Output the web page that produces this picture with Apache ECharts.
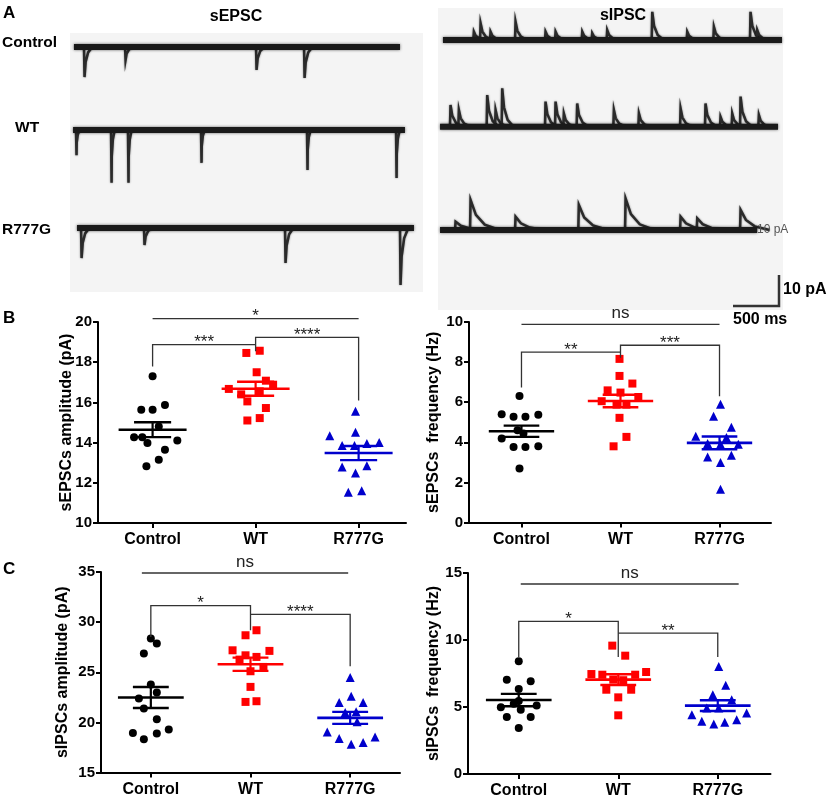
<!DOCTYPE html>
<html>
<head>
<meta charset="utf-8">
<script src="https://cdn.jsdelivr.net/npm/echarts@6/dist/echarts.min.js"></script>
<style>
  html, body { margin: 0; padding: 0; background: #fff; }
  #main { width: 829px; height: 803px; }
</style>
</head>
<body>
<div id="main"></div>
<script>
const categories = ['Control', 'WT', 'R777G'];

// B left: sEPSCs amplitude (pA), one array per group + horizontal scatter offsets
const epscAmp = [
  [17.3, 15.64, 15.64, 15.87, 14.8, 14.26, 14.26, 14.11, 13.98, 13.65, 13.15, 12.82],
  [18.46, 18.57, 17.5, 17.08, 16.88, 16.67, 16.4, 16.55, 16.05, 15.72, 15.1, 15.22],
  [15.56, 14.34, 14.51, 14.01, 13.95, 13.85, 13.85, 12.79, 12.85, 12.49, 11.53, 11.6]
];
const epscAmpJitter = [
  [0, -0.11, 0, 0.12, 0.06, -0.18, -0.10, 0.24, -0.05, 0.12, 0.06, -0.06],
  [-0.09, 0.04, 0.01, 0.10, 0.17, -0.26, -0.14, 0.04, -0.08, 0.10, -0.08, 0.04],
  [-0.03, -0.28, -0.03, 0.20, 0.08, -0.04, -0.16, -0.16, 0.08, -0.03, -0.10, 0.03]
];
const epscAmpMean = [14.64, 16.68, 13.48];
const epscAmpSem = [0.37, 0.35, 0.35];
// [from, to, bar y, left leg end, right leg end, label]
const epscAmpSig = [
  [0, 2, 20.17, 20.17, 20.17, '*'],
  [0, 1, 18.87, 17.79, 18.87, '***'],
  [1, 2, 19.24, 18.54, 16.09, '****']
];

// B right: sEPSCs frequency (Hz)
const epscFreq = [
  [6.31, 5.4, 5.27, 5.27, 5.38, 4.44, 4.6, 4.19, 3.77, 3.77, 3.80, 2.69],
  [8.16, 7.31, 6.93, 6.59, 6.48, 6.26, 6.05, 5.88, 5.88, 5.22, 4.27, 3.80],
  [5.90, 5.30, 4.75, 4.30, 4.24, 3.94, 3.90, 3.90, 3.27, 3.36, 2.99, 1.66]
];
const epscFreqJitter = [
  [-0.02, -0.20, -0.08, 0.04, 0.17, 0.02, -0.04, -0.20, -0.08, 0.04, 0.17, -0.02],
  [-0.01, -0.01, 0.12, -0.13, 0, 0.18, -0.19, -0.04, 0.06, -0.01, 0.06, -0.07],
  [0.01, -0.06, 0.12, -0.24, 0.07, -0.12, 0.01, 0.19, -0.12, 0.12, 0.01, 0.01]
];
const epscFreqMean = [4.55, 6.06, 3.97];
const epscFreqSem = [0.28, 0.31, 0.32];
const epscFreqSig = [
  [0, 2, 9.88, 9.88, 9.88, 'ns'],
  [0, 1, 8.5, 6.73, 8.5, '**'],
  [1, 2, 8.84, 8.22, 6.3, '***']
];

// C left: sIPSCs amplitude (pA)
const ipscAmp = [
  [28.36, 27.86, 26.86, 23.77, 22.38, 22.97, 21.38, 20.32, 18.95, 18.89, 19.29, 18.32],
  [28.69, 29.19, 27.19, 27.13, 26.69, 26.53, 26.26, 25.53, 25.10, 23.54, 22.04, 22.11],
  [24.47, 22.61, 21.98, 21.98, 20.98, 21.05, 20.05, 19.05, 18.39, 18.55, 17.82, 17.99]
];
const ipscAmpJitter = [
  [0, 0.06, -0.07, 0, -0.12, 0.06, -0.07, 0.06, -0.18, 0.06, 0.18, -0.07],
  [-0.05, 0.06, -0.18, 0.19, -0.05, 0.06, -0.11, 0.13, 0, 0, -0.05, 0.06],
  [0, 0.01, -0.11, 0.13, -0.05, 0.06, 0.07, -0.23, -0.11, 0.25, 0.01, 0.13]
];
const ipscAmpMean = [22.48, 25.8, 20.45];
const ipscAmpSem = [1.05, 0.66, 0.6];
const ipscAmpSig = [
  [-0.09, 1.98, 34.9, 34.9, 34.9, 'ns'],
  [0, 1, 31.64, 28.52, 29.19, '*'],
  [1, 2, 30.78, 30.78, 25.6, '****']
];

// C right: sIPSCs frequency (Hz)
const ipscFreq = [
  [8.41, 7.04, 6.92, 6.34, 5.45, 5.25, 4.98, 5.12, 4.8, 4.25, 4.25, 3.43],
  [9.58, 8.83, 7.46, 7.61, 7.41, 7.41, 7.04, 7.0, 6.29, 6.29, 5.72, 4.38],
  [8.03, 6.62, 5.92, 5.55, 4.93, 4.93, 4.43, 4.55, 3.93, 3.73, 3.86, 4.05]
];
const ipscFreqJitter = [
  [0, -0.12, 0.12, 0, 0, -0.05, -0.18, 0.18, 0.02, -0.12, 0.12, 0],
  [-0.06, 0.07, -0.27, 0.28, -0.16, 0.17, -0.05, 0.05, -0.12, 0.13, 0, 0],
  [0.01, 0.08, -0.05, 0.14, -0.11, 0.01, -0.26, 0.29, -0.16, -0.04, 0.07, 0.19]
];
const ipscFreqMean = [5.52, 7.04, 5.1];
const ipscFreqSem = [0.46, 0.4, 0.4];
const ipscFreqSig = [
  [0.02, 2.21, 14.18, 14.18, 14.18, 'ns'],
  [0, 1, 11.39, 8.73, 8.73, '*'],
  [1, 2, 10.52, 10.52, 8.73, '**']
];

// A: example traces, events as [time (ms), peak (pA)]
const epscControlEvents = [[152, -9.7], [598, -4.2], [2022, -7.4], [2544, -10]];
const epscWTEvents = [[65, -8.1], [446, -17], [630, -17], [1424, -10.6], [2576, -12.9], [3544, -15.5]];
const epscR777GEvents = [[120, -9.7], [804, -5.5], [2337, -11.3], [3587, -18.4]];
const ipscControlEvents = [[384, 2.7], [457, 5.4], [565, 2.7], [837, 5.9], [1163, 2.7], [1272, 2.7],
  [1562, 2.7], [1670, 2.2], [1833, 3.2], [2323, 9.1], [2703, 2.7], [2993, 4.3], [3391, 9.1], [3464, 3.2]];
const ipscWTEvents = [[130, 7.0], [221, 5.4], [529, 10.2], [620, 5.4], [692, 12.4], [1163, 8.1], [1272, 8.1],
  [1362, 4.3], [1507, 7.5], [1906, 5.4], [2178, 4.3], [2631, 5.9], [2902, 7.5], [3065, 3.2], [3192, 4.3],
  [3283, 9.7], [3482, 3.8]];
const ipscR777GEvents = [[185, 2.7], [348, 9.7], [837, 4.3], [1525, 8.1], [2033, 10.2], [2631, 4.3], [2812, 3.8], [3283, 6.5]];
// recording start / end (ms)
const epscSpans = [[43, 3587], [33, 3641], [76, 3739]];
const ipscSpans = [[54, 3739], [22, 3696], [22, 3470]];

const COLORS = ['#000000', '#ff0000', '#0000cc'];
const SYMBOLS = ['circle', 'rect', 'triangle'];
const SIZES = [8, 8, 9];
const PX_PER_PA = 3.1;
const MS_PER_PX = 10.87;

const chart = echarts.init(document.getElementById('main'));
const grid = [], xAxis = [], yAxis = [], series = [];

function addTrace(events, span, left, top, yMin, yMax, xMax, decay) {
  const idx = grid.length;
  grid.push({ left: left, top: top, width: xMax / MS_PER_PX, height: (yMax - yMin) * PX_PER_PA });
  xAxis.push({ gridIndex: idx, type: 'value', min: 0, max: xMax, show: false });
  yAxis.push({ gridIndex: idx, type: 'value', min: yMin, max: yMax, show: false });
  series.push({
    type: 'line', xAxisIndex: idx, yAxisIndex: idx, silent: true, symbol: 'none', clip: false,
    data: [[span[0], 0], [span[1], 0]],
    lineStyle: { color: '#1a1a1a', width: 6, shadowBlur: 3, shadowColor: 'rgba(0,0,0,0.6)' }
  });
  series.push({
    type: 'custom', xAxisIndex: idx, yAxisIndex: idx, silent: true, clip: false,
    data: events,
    renderItem: function (params, api) {
      const t = api.value(0), a = api.value(1);
      const pts = [[t, 0], [t + 6, a], [t + decay * 0.2, a * 0.5], [t + decay * 0.5, a * 0.18], [t + decay, 0]]
        .map(function (p) { return api.coord(p); });
      return { type: 'polyline', shape: { points: pts },
        style: { stroke: '#2a2a2a', lineWidth: 2.5, fill: null, shadowBlur: 2, shadowColor: 'rgba(0,0,0,0.5)' } };
    }
  });
}

// left image: sEPSC (downward), right image: sIPSC (upward)
const epscTops = [31.5, 114.5, 212.5];
[epscControlEvents, epscWTEvents, epscR777GEvents].forEach(function (ev, i) {
  addTrace(ev, epscSpans[i], 70, epscTops[i], -20, 5, 3800, i === 1 ? 40 : 90);
});
const ipscTops = [2.8, 89.5, 192.8];
[ipscControlEvents, ipscWTEvents, ipscR777GEvents].forEach(function (ev, i) {
  addTrace(ev, ipscSpans[i], 438, ipscTops[i], -5, 12, 3750, i === 2 ? 320 : 130);
});

function addPlot(p) {
  const idx = grid.length;
  grid.push({ left: p.left, top: p.top, width: p.width, height: p.height });
  xAxis.push({
    gridIndex: idx, type: 'value', min: p.xMin, max: p.xMax, splitLine: { show: false },
    axisLine: { onZero: false, lineStyle: { color: '#000', width: 2 } },
    axisTick: { customValues: [0, 1, 2], length: 5, lineStyle: { color: '#000', width: 2 } },
    axisLabel: {
      customValues: [0, 1, 2], formatter: function (v) { return categories[Math.round(v)]; },
      color: '#000', fontWeight: 'bold', fontSize: 16, fontFamily: 'Arial', margin: 9
    }
  });
  yAxis.push({
    gridIndex: idx, type: 'value', min: p.yMin, max: p.yMax, interval: p.step,
    name: p.name, nameLocation: 'middle', nameGap: p.nameGap, nameMoveOverlap: false,
    nameTextStyle: { color: '#000', fontWeight: 'bold', fontSize: 16, fontFamily: 'Arial' },
    splitLine: { show: false },
    axisLine: { show: true, onZero: false, lineStyle: { color: '#000', width: 2 } },
    axisTick: { show: true, length: 5, lineStyle: { color: '#000', width: 2 } },
    axisLabel: { color: '#000', fontWeight: 'bold', fontSize: 15, fontFamily: 'Arial', margin: 6 }
  });
  p.vals.forEach(function (vals, g) {
    series.push({
      type: 'scatter', xAxisIndex: idx, yAxisIndex: idx, silent: true, z: 2,
      symbol: SYMBOLS[g], symbolSize: SIZES[g], itemStyle: { color: COLORS[g], opacity: 1 },
      data: vals.map(function (v, k) { return [g + p.jit[g][k], v]; })
    });
  });
  // mean +/- SEM
  series.push({
    type: 'custom', xAxisIndex: idx, yAxisIndex: idx, silent: true, z: 3,
    encode: { x: 0, y: 1 },
    data: p.mean.map(function (m, g) { return [g, m, p.sem[g]]; }),
    renderItem: function (params, api) {
      const g = api.value(0), m = api.value(1), s = api.value(2);
      const c = COLORS[g];
      const P = function (x, y) { return api.coord([x, y]); };
      const ln = function (a, b, w) {
        return { type: 'line', shape: { x1: a[0], y1: a[1], x2: b[0], y2: b[1] }, style: { stroke: c, lineWidth: w } };
      };
      return {
        type: 'group', children: [
          ln(P(g - 0.33, m), P(g + 0.33, m), 2.6),
          ln(P(g, m - s), P(g, m + s), 2.2),
          ln(P(g - 0.18, m + s), P(g + 0.18, m + s), 2.4),
          ln(P(g - 0.18, m - s), P(g + 0.18, m - s), 2.4)
        ]
      };
    }
  });
  // significance brackets
  series.push({
    type: 'custom', xAxisIndex: idx, yAxisIndex: idx, silent: true, clip: false, z: 4,
    encode: { x: 0, y: 2 },
    data: p.sig.map(function (s) { return s.slice(0, 5); }),
    renderItem: function (params, api) {
      const s = p.sig[params.dataIndex];
      const pts = [[s[0], s[3]], [s[0], s[2]], [s[1], s[2]], [s[1], s[4]]].map(function (q) { return api.coord(q); });
      const mid = api.coord([(s[0] + s[1]) / 2, s[2]]);
      const isNs = s[5] === 'ns';
      return {
        type: 'group', children: [
          { type: 'polyline', shape: { points: pts }, style: { stroke: '#333', lineWidth: 1.3, fill: null } },
          {
            type: 'text', x: mid[0], y: mid[1] - (isNs ? 11 : 2),
            style: { text: s[5], fill: '#222', font: '17px Arial', textAlign: 'center', textVerticalAlign: 'middle' }
          }
        ]
      };
    }
  });
}

addPlot({ vals: epscAmp, jit: epscAmpJitter, mean: epscAmpMean, sem: epscAmpSem, sig: epscAmpSig,
  name: 'sEPSCs amplitude (pA)', nameGap: 23, yMin: 10, yMax: 20, step: 2,
  xMin: -0.53, xMax: 2.46, left: 98, top: 322, width: 308, height: 201 });
addPlot({ vals: epscFreq, jit: epscFreqJitter, mean: epscFreqMean, sem: epscFreqSem, sig: epscFreqSig,
  name: 'sEPSCs  frequency (Hz)', nameGap: 27, yMin: 0, yMax: 10, step: 2,
  xMin: -0.53, xMax: 2.52, left: 469, top: 322, width: 302, height: 200.5 });
addPlot({ vals: ipscAmp, jit: ipscAmpJitter, mean: ipscAmpMean, sem: ipscAmpSem, sig: ipscAmpSig,
  name: 'sIPSCs amplitude (pA)', nameGap: 30, yMin: 15, yMax: 35, step: 5,
  xMin: -0.5, xMax: 2.5, left: 101, top: 572, width: 299, height: 200.5 });
addPlot({ vals: ipscFreq, jit: ipscFreqJitter, mean: ipscFreqMean, sem: ipscFreqSem, sig: ipscFreqSig,
  name: 'sIPSCs  frequency (Hz)', nameGap: 26, yMin: 0, yMax: 15, step: 5,
  xMin: -0.51, xMax: 2.53, left: 468, top: 573, width: 302.5, height: 201 });

const bold = function (size) { return 'bold ' + size + 'px Arial'; };
const txt = function (x, y, text, font, align, fill) {
  return { type: 'text', x: x, y: y, silent: true, z: 10,
    style: { text: text, font: font, fill: fill || '#000', textAlign: align || 'left', textVerticalAlign: 'middle' } };
};

const option = {
  animation: false,
  backgroundColor: '#fff',
  grid: grid,
  xAxis: xAxis,
  yAxis: yAxis,
  series: series,
  graphic: [
    { type: 'rect', shape: { x: 70, y: 33, width: 353, height: 259 }, style: { fill: '#f4f4f4' }, z: -10, silent: true },
    { type: 'rect', shape: { x: 438, y: 8, width: 345, height: 302 }, style: { fill: '#f4f4f4' }, z: -10, silent: true },
    txt(3, 13, 'A', bold(17)),
    txt(3, 318, 'B', bold(17)),
    txt(3, 569, 'C', bold(17)),
    txt(236, 17, 'sEPSC', bold(16), 'center'),
    txt(623, 16, 'sIPSC', bold(16), 'center'),
    txt(2, 43, 'Control', bold(15.5)),
    txt(15, 128, 'WT', bold(15.5)),
    txt(2, 230, 'R777G', bold(15.5)),
    txt(757, 230, '10 pA', '12px Arial', 'left', '#555'),
    { type: 'polyline', silent: true, z: 10, shape: { points: [[733, 306], [779, 306], [779, 275]] },
      style: { stroke: '#333', lineWidth: 2.5, fill: null } },
    txt(783, 290, '10 pA', bold(16)),
    txt(733, 320, '500 ms', bold(16))
  ]
};
chart.setOption(option);
window.addEventListener('resize', function () { chart.resize(); });
</script>
</body>
</html>
